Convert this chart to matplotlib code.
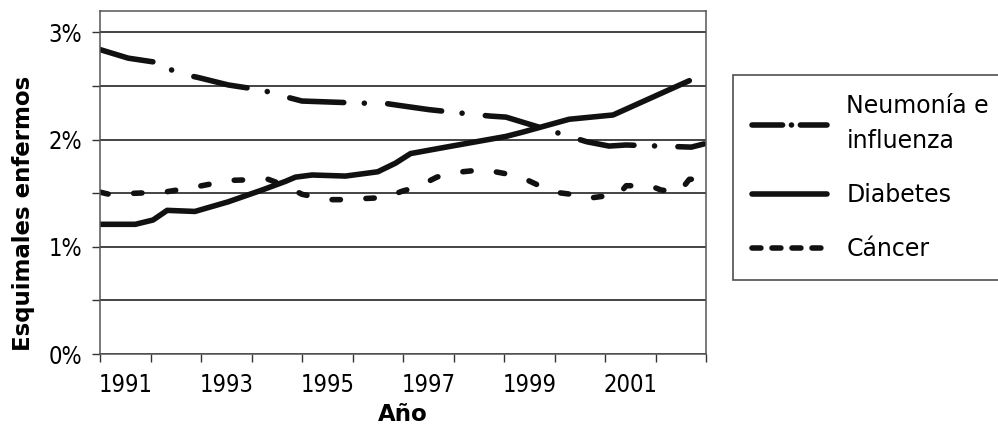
import matplotlib
matplotlib.use("Agg")
import matplotlib.pyplot as plt
from matplotlib.lines import Line2D

plt.rcParams['font.family'] = ['DejaVu Sans']

# Data (fractional years, % of sick Eskimos)
neumoniaYears = [1991.0, 1991.56, 1992.13, 1992.54, 1992.94, 1993.54, 1994.23, 1994.59,
                 1995.0, 1996.2, 1996.62, 1996.91, 1997.51, 1998.3, 1998.72, 1999.04,
                 2000.64, 2001.08, 2001.42, 2002.71, 2002.96]
neumoniaValues = [2.84, 2.76, 2.72, 2.62, 2.58, 2.51, 2.46, 2.41,
                  2.36, 2.34, 2.34, 2.32, 2.28, 2.24, 2.22, 2.21,
                  1.98, 1.94, 1.95, 1.93, 1.96]

diabetesYears = [1991.0, 1991.7, 1992.05, 1992.33, 1992.88, 1993.54, 1994.21, 1994.67,
                 1994.87, 1995.2, 1995.86, 1996.5, 1996.85, 1997.15, 1997.85, 1999.04,
                 1999.37, 2000.29, 2001.16, 2002.67]
diabetesValues = [1.21, 1.21, 1.25, 1.34, 1.33, 1.42, 1.53, 1.61,
                  1.65, 1.67, 1.66, 1.70, 1.78, 1.87, 1.93, 2.03,
                  2.07, 2.19, 2.23, 2.55]

cancerYears = [1991.0, 1991.18, 1991.71, 1992.27, 1992.79, 1993.58, 1994.33, 1994.67,
               1995.0, 1995.5, 1995.8, 1996.65, 1996.99, 1997.29, 1997.67, 1997.96,
               1998.6, 1999.17, 1999.43, 1999.79, 2000.0, 2000.33, 2000.62, 2000.94,
               2001.24, 2001.42, 2001.89, 2002.11, 2002.47, 2002.67, 2002.96]
cancerValues = [1.51, 1.49, 1.50, 1.51, 1.55, 1.62, 1.63, 1.57,
                1.49, 1.44, 1.44, 1.46, 1.52, 1.56, 1.65, 1.69,
                1.72, 1.67, 1.63, 1.55, 1.51, 1.49, 1.45, 1.47,
                1.47, 1.57, 1.57, 1.53, 1.51, 1.63, 1.63]

seriesNames = ["Neumonía e\ninfluenza", "Diabetes", "Cáncer"]
labelYears = [1991, 1993, 1995, 1997, 1999, 2001]
yTicks = [0, 1, 2, 3]
yHalfTicks = [0.5, 1.5, 2.5]

fig = plt.figure(figsize=(9.98, 4.29), dpi=100)
ax = fig.add_axes([100 / 998, 1 - 354 / 429, 606 / 998, 343 / 429])

lw = 4
ax.plot(neumoniaYears, neumoniaValues, color="#111111", lw=lw,
        linestyle=(0, (9.8, 3.7, 0.01, 4.2)), dash_capstyle="round", solid_capstyle="round")
ax.plot(diabetesYears, diabetesValues, color="#111111", lw=lw,
        solid_capstyle="round", solid_joinstyle="round")
ax.plot(cancerYears, cancerValues, color="#111111", lw=lw,
        linestyle=(0, (1.5, 4.6)), dash_capstyle="round")

ax.set_xlim(1991, 2003)
ax.set_ylim(0, 3.2)

# category style x axis: tick marks between years, labels centred on odd years
ax.set_xticks(range(1991, 2004))
ax.set_xticklabels([])
ax.set_xticks([y + 0.5 for y in labelYears], minor=True)
ax.set_xticklabels([str(y) for y in labelYears], minor=True)
ax.tick_params(axis="x", which="major", length=6, width=1, color="#333333", direction="out")
ax.tick_params(axis="x", which="minor", length=0, pad=14, labelsize=17)

ax.set_yticks(yTicks)
ax.set_yticklabels([f"{v}%" for v in yTicks])
ax.set_yticks(yHalfTicks, minor=True)
ax.tick_params(axis="y", which="both", length=6, width=1, color="#333333", direction="out")
ax.tick_params(axis="y", which="major", pad=7, labelsize=17)
for t in ax.get_xticklabels(minor=True) + ax.get_yticklabels():
    t.set_fontstretch("condensed")

ax.set_axisbelow(True)
ax.grid(True, which="both", axis="y", color="#111111", lw=1.1)
ax.grid(False, axis="x", which="both")
for s in ax.spines.values():
    s.set_color("#555555")
    s.set_linewidth(1.1)

ax.set_ylabel("Esquimales enfermos", fontsize=16.5, fontweight="bold")
ax.yaxis.set_label_coords(-0.107, 0.41)
ax.set_xlabel("Año", fontsize=16.5, fontweight="bold", labelpad=4)

handles = [
    Line2D([], [], color="#111111", lw=lw, linestyle=(0, (5.5, 1.6, 0.01, 1.6)), dash_capstyle="round"),
    Line2D([], [], color="#111111", lw=lw, solid_capstyle="round"),
    Line2D([], [], color="#111111", lw=lw, linestyle=(0, (1.6, 2.0)), dash_capstyle="round"),
]
leg = fig.legend(handles, seriesNames, loc="upper left", bbox_to_anchor=(733 / 998, 1 - 75 / 429),
                 fontsize=17, frameon=True, fancybox=False, edgecolor="#222222",
                 handlelength=3.2, handletextpad=0.8, labelspacing=1.27, borderpad=0.8,
                 borderaxespad=0)
leg.get_frame().set_linewidth(1.2)
for t in leg.get_texts():
    t.set_linespacing(1.6)

fig.savefig("out.png", dpi=100)
